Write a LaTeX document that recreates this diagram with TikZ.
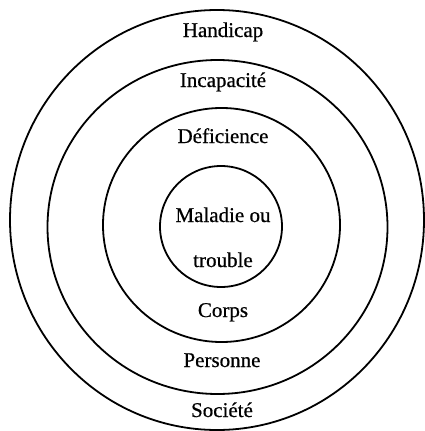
\documentclass[tikz,border=0pt]{standalone}
\usepackage{fontspec}
\setmainfont{Liberation Serif}
\newfontfamily\lblfont{Liberation Serif}[FakeBold=0.6]
\begin{document}
\begin{tikzpicture}[x=1pt,y=-1pt,
  ring/.style={line width=1.8pt},
  lbl/.style={anchor=base,inner sep=0pt,font=\lblfont\fontsize{21}{24}\selectfont}]
\useasboundingbox (0,0) rectangle (425,431);
\draw[ring] (217,220) ellipse [x radius=207, y radius=210];
\draw[ring] (217.5,227) ellipse [x radius=170, y radius=167];
\draw[ring] (221.5,225) ellipse [x radius=118.5, y radius=117];
\draw[ring] (221,226.5) ellipse [x radius=61, y radius=60.5];
\node[lbl] (handicap) at (223,37) {Handicap};
\node[lbl] (incap) at (223,87) {Incapacité};
\node[lbl] (defic) at (223,143) {Déficience};
\node[lbl] (maladie) at (223,222) {Maladie ou};
\node[lbl] (trouble) at (223,267) {trouble};
\node[lbl] (corps) at (223,317) {Corps};
\node[lbl] (personne) at (222,367) {Personne};
\node[lbl] (societe) at (222,417) {Société};
\end{tikzpicture}
\end{document}
